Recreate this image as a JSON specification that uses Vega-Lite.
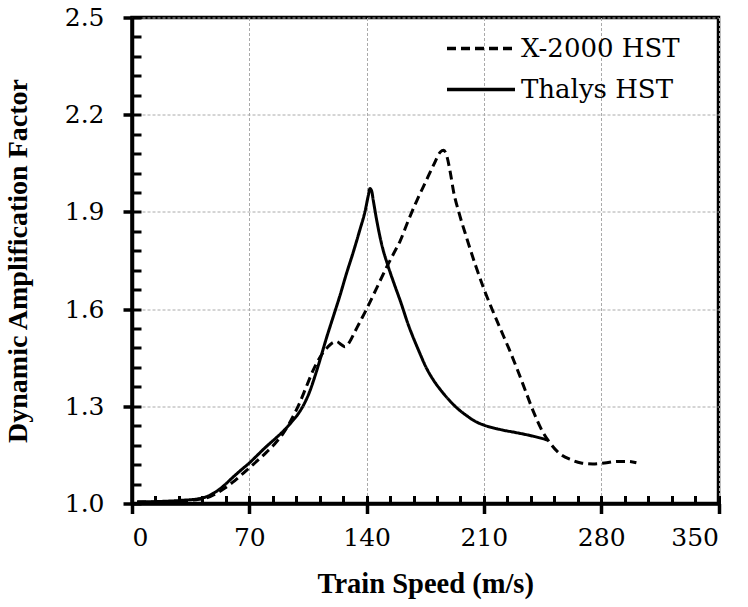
{
  "$schema": "https://vega.github.io/schema/vega-lite/v6.json",
  "width": 586.5,
  "height": 486,
  "autosize": {"type": "none"},
  "padding": {"left": 132, "top": 17.5, "right": 29.5, "bottom": 103.5},
  "background": "white",
  "config": {
    "view": {"stroke": "black", "strokeWidth": 3.5},
    "font": "DejaVu Serif",
    "axis": {"labelColor": "black", "titleColor": "black"}
  },
  "datasets": {
    "curves": [
      {"speed": 3, "daf": 1.005, "series": "Thalys HST"},
      {"speed": 15, "daf": 1.006, "series": "Thalys HST"},
      {"speed": 30, "daf": 1.01, "series": "Thalys HST"},
      {"speed": 40, "daf": 1.015, "series": "Thalys HST"},
      {"speed": 45, "daf": 1.022, "series": "Thalys HST"},
      {"speed": 50, "daf": 1.036, "series": "Thalys HST"},
      {"speed": 55, "daf": 1.056, "series": "Thalys HST"},
      {"speed": 60, "daf": 1.08, "series": "Thalys HST"},
      {"speed": 65, "daf": 1.103, "series": "Thalys HST"},
      {"speed": 70, "daf": 1.125, "series": "Thalys HST"},
      {"speed": 75, "daf": 1.15, "series": "Thalys HST"},
      {"speed": 80, "daf": 1.175, "series": "Thalys HST"},
      {"speed": 85, "daf": 1.198, "series": "Thalys HST"},
      {"speed": 90, "daf": 1.222, "series": "Thalys HST"},
      {"speed": 95, "daf": 1.25, "series": "Thalys HST"},
      {"speed": 100, "daf": 1.283, "series": "Thalys HST"},
      {"speed": 103, "daf": 1.31, "series": "Thalys HST"},
      {"speed": 106, "daf": 1.345, "series": "Thalys HST"},
      {"speed": 109, "daf": 1.39, "series": "Thalys HST"},
      {"speed": 112, "daf": 1.44, "series": "Thalys HST"},
      {"speed": 116, "daf": 1.51, "series": "Thalys HST"},
      {"speed": 120, "daf": 1.575, "series": "Thalys HST"},
      {"speed": 124, "daf": 1.64, "series": "Thalys HST"},
      {"speed": 128, "daf": 1.71, "series": "Thalys HST"},
      {"speed": 132, "daf": 1.775, "series": "Thalys HST"},
      {"speed": 136, "daf": 1.845, "series": "Thalys HST"},
      {"speed": 139, "daf": 1.9, "series": "Thalys HST"},
      {"speed": 141, "daf": 1.95, "series": "Thalys HST"},
      {"speed": 142, "daf": 1.972, "series": "Thalys HST"},
      {"speed": 143, "daf": 1.965, "series": "Thalys HST"},
      {"speed": 144, "daf": 1.935, "series": "Thalys HST"},
      {"speed": 146, "daf": 1.875, "series": "Thalys HST"},
      {"speed": 149, "daf": 1.8, "series": "Thalys HST"},
      {"speed": 153, "daf": 1.73, "series": "Thalys HST"},
      {"speed": 157, "daf": 1.67, "series": "Thalys HST"},
      {"speed": 160, "daf": 1.627, "series": "Thalys HST"},
      {"speed": 165, "daf": 1.55, "series": "Thalys HST"},
      {"speed": 171, "daf": 1.473, "series": "Thalys HST"},
      {"speed": 176, "daf": 1.415, "series": "Thalys HST"},
      {"speed": 180, "daf": 1.38, "series": "Thalys HST"},
      {"speed": 185, "daf": 1.345, "series": "Thalys HST"},
      {"speed": 190, "daf": 1.315, "series": "Thalys HST"},
      {"speed": 195, "daf": 1.29, "series": "Thalys HST"},
      {"speed": 200, "daf": 1.27, "series": "Thalys HST"},
      {"speed": 205, "daf": 1.253, "series": "Thalys HST"},
      {"speed": 210, "daf": 1.242, "series": "Thalys HST"},
      {"speed": 220, "daf": 1.228, "series": "Thalys HST"},
      {"speed": 230, "daf": 1.218, "series": "Thalys HST"},
      {"speed": 240, "daf": 1.207, "series": "Thalys HST"},
      {"speed": 248, "daf": 1.196, "series": "Thalys HST"},
      {"speed": 3, "daf": 1.004, "series": "X-2000 HST"},
      {"speed": 15, "daf": 1.005, "series": "X-2000 HST"},
      {"speed": 30, "daf": 1.008, "series": "X-2000 HST"},
      {"speed": 40, "daf": 1.013, "series": "X-2000 HST"},
      {"speed": 45, "daf": 1.018, "series": "X-2000 HST"},
      {"speed": 50, "daf": 1.03, "series": "X-2000 HST"},
      {"speed": 55, "daf": 1.046, "series": "X-2000 HST"},
      {"speed": 60, "daf": 1.065, "series": "X-2000 HST"},
      {"speed": 65, "daf": 1.087, "series": "X-2000 HST"},
      {"speed": 70, "daf": 1.11, "series": "X-2000 HST"},
      {"speed": 75, "daf": 1.133, "series": "X-2000 HST"},
      {"speed": 80, "daf": 1.157, "series": "X-2000 HST"},
      {"speed": 85, "daf": 1.183, "series": "X-2000 HST"},
      {"speed": 90, "daf": 1.215, "series": "X-2000 HST"},
      {"speed": 95, "daf": 1.258, "series": "X-2000 HST"},
      {"speed": 100, "daf": 1.31, "series": "X-2000 HST"},
      {"speed": 104, "daf": 1.36, "series": "X-2000 HST"},
      {"speed": 108, "daf": 1.41, "series": "X-2000 HST"},
      {"speed": 112, "daf": 1.45, "series": "X-2000 HST"},
      {"speed": 116, "daf": 1.478, "series": "X-2000 HST"},
      {"speed": 120, "daf": 1.497, "series": "X-2000 HST"},
      {"speed": 122, "daf": 1.5, "series": "X-2000 HST"},
      {"speed": 125, "daf": 1.49, "series": "X-2000 HST"},
      {"speed": 127, "daf": 1.484, "series": "X-2000 HST"},
      {"speed": 130, "daf": 1.5, "series": "X-2000 HST"},
      {"speed": 133, "daf": 1.53, "series": "X-2000 HST"},
      {"speed": 136, "daf": 1.56, "series": "X-2000 HST"},
      {"speed": 140, "daf": 1.6, "series": "X-2000 HST"},
      {"speed": 146, "daf": 1.665, "series": "X-2000 HST"},
      {"speed": 152, "daf": 1.73, "series": "X-2000 HST"},
      {"speed": 156, "daf": 1.77, "series": "X-2000 HST"},
      {"speed": 160, "daf": 1.81, "series": "X-2000 HST"},
      {"speed": 165, "daf": 1.875, "series": "X-2000 HST"},
      {"speed": 170, "daf": 1.935, "series": "X-2000 HST"},
      {"speed": 175, "daf": 1.99, "series": "X-2000 HST"},
      {"speed": 180, "daf": 2.045, "series": "X-2000 HST"},
      {"speed": 184, "daf": 2.085, "series": "X-2000 HST"},
      {"speed": 186, "daf": 2.09, "series": "X-2000 HST"},
      {"speed": 188, "daf": 2.07, "series": "X-2000 HST"},
      {"speed": 190, "daf": 2.02, "series": "X-2000 HST"},
      {"speed": 192, "daf": 1.96, "series": "X-2000 HST"},
      {"speed": 195, "daf": 1.9, "series": "X-2000 HST"},
      {"speed": 200, "daf": 1.815, "series": "X-2000 HST"},
      {"speed": 205, "daf": 1.735, "series": "X-2000 HST"},
      {"speed": 210, "daf": 1.662, "series": "X-2000 HST"},
      {"speed": 215, "daf": 1.598, "series": "X-2000 HST"},
      {"speed": 220, "daf": 1.537, "series": "X-2000 HST"},
      {"speed": 225, "daf": 1.477, "series": "X-2000 HST"},
      {"speed": 230, "daf": 1.413, "series": "X-2000 HST"},
      {"speed": 235, "daf": 1.345, "series": "X-2000 HST"},
      {"speed": 240, "daf": 1.278, "series": "X-2000 HST"},
      {"speed": 245, "daf": 1.222, "series": "X-2000 HST"},
      {"speed": 249, "daf": 1.19, "series": "X-2000 HST"},
      {"speed": 255, "daf": 1.155, "series": "X-2000 HST"},
      {"speed": 262, "daf": 1.135, "series": "X-2000 HST"},
      {"speed": 268, "daf": 1.125, "series": "X-2000 HST"},
      {"speed": 275, "daf": 1.122, "series": "X-2000 HST"},
      {"speed": 282, "daf": 1.125, "series": "X-2000 HST"},
      {"speed": 290, "daf": 1.13, "series": "X-2000 HST"},
      {"speed": 296, "daf": 1.13, "series": "X-2000 HST"},
      {"speed": 301, "daf": 1.126, "series": "X-2000 HST"}
    ]
  },
  "data": {"name": "curves"},
  "resolve": {"axis": {"x": "independent", "y": "independent"}},
  "layer": [
    {
      "mark": {"type": "line", "color": "black", "strokeWidth": 3, "interpolate": "monotone", "clip": true},
      "encoding": {
        "x": {
          "field": "speed", "type": "quantitative",
          "scale": {"domain": [0, 350], "nice": false, "zero": false},
          "axis": {
            "orient": "bottom",
            "title": "Train Speed (m/s)",
            "values": [0, 70, 140, 210, 280, 350],
            "labelFont": "DejaVu Serif",
            "titleFont": "Liberation Serif",
            "labelFontSize": 25, "labelPadding": 12,
            "titleFontSize": 28.5, "titleFontWeight": "bold", "titlePadding": 19,
            "tickSize": 10, "tickWidth": 3.5, "tickColor": "black",
            "domainColor": "black", "domainWidth": 3.5,
            "grid": true, "gridColor": "#aaaaaa", "gridWidth": 1, "gridDash": [3, 2]
          }
        },
        "y": {
          "field": "daf", "type": "quantitative",
          "scale": {"domain": [1.0, 2.5], "nice": false, "zero": false},
          "axis": {
            "orient": "left",
            "title": "Dynamic Amplification Factor",
            "values": [1.0, 1.3, 1.6, 1.9, 2.2, 2.5],
            "format": ".1f",
            "labelFont": "DejaVu Serif",
            "titleFont": "Liberation Serif",
            "labelFontSize": 25, "labelPadding": 19,
            "titleFontSize": 28, "titleFontWeight": "bold", "titlePadding": 32,
            "tickSize": 9, "tickWidth": 3.5, "tickColor": "black",
            "domainColor": "black", "domainWidth": 3.5,
            "grid": true, "gridColor": "#aaaaaa", "gridWidth": 1, "gridDash": [3, 2]
          }
        },
        "strokeDash": {
          "field": "series", "type": "nominal",
          "scale": {"domain": ["X-2000 HST", "Thalys HST"], "range": [[9, 5], [1, 0]]},
          "legend": {
            "title": null,
            "orient": "none",
            "legendX": 330,
            "legendY": 12,
            "padding": 0,
            "symbolType": "M-2,0H2",
            "symbolSize": 1156,
            "symbolStrokeWidth": 3.5,
            "symbolStrokeColor": "black",
            "labelFont": "DejaVu Serif",
            "labelFontSize": 26,
            "labelColor": "black",
            "labelOffset": 21,
            "labelLimit": 400,
            "rowPadding": 9
          }
        }
      }
    },
    {
      "mark": {"type": "line", "strokeOpacity": 0, "interpolate": "monotone"},
      "encoding": {
        "detail": {"field": "series"},
        "x": {
          "field": "speed", "type": "quantitative",
          "axis": {
            "orient": "bottom", "title": null, "labels": false, "grid": false, "domain": false,
            "values": [0, 14, 28, 42, 56, 70, 84, 98, 112, 126, 140, 154, 168, 182, 196, 210, 224, 238, 252, 266, 280, 294, 308, 322, 336, 350],
            "tickSize": -8, "tickWidth": 3, "tickColor": "black"
          }
        },
        "y": {
          "field": "daf", "type": "quantitative",
          "axis": {
            "orient": "left", "title": null, "labels": false, "grid": false, "domain": false,
            "values": [1.0, 1.06, 1.12, 1.18, 1.24, 1.3, 1.36, 1.42, 1.48, 1.54, 1.6, 1.66, 1.72, 1.78, 1.84, 1.9, 1.96, 2.02, 2.08, 2.14, 2.2, 2.26, 2.32, 2.38, 2.44, 2.5],
            "tickSize": -9, "tickWidth": 3, "tickColor": "black"
          }
        }
      }
    }
  ]
}
